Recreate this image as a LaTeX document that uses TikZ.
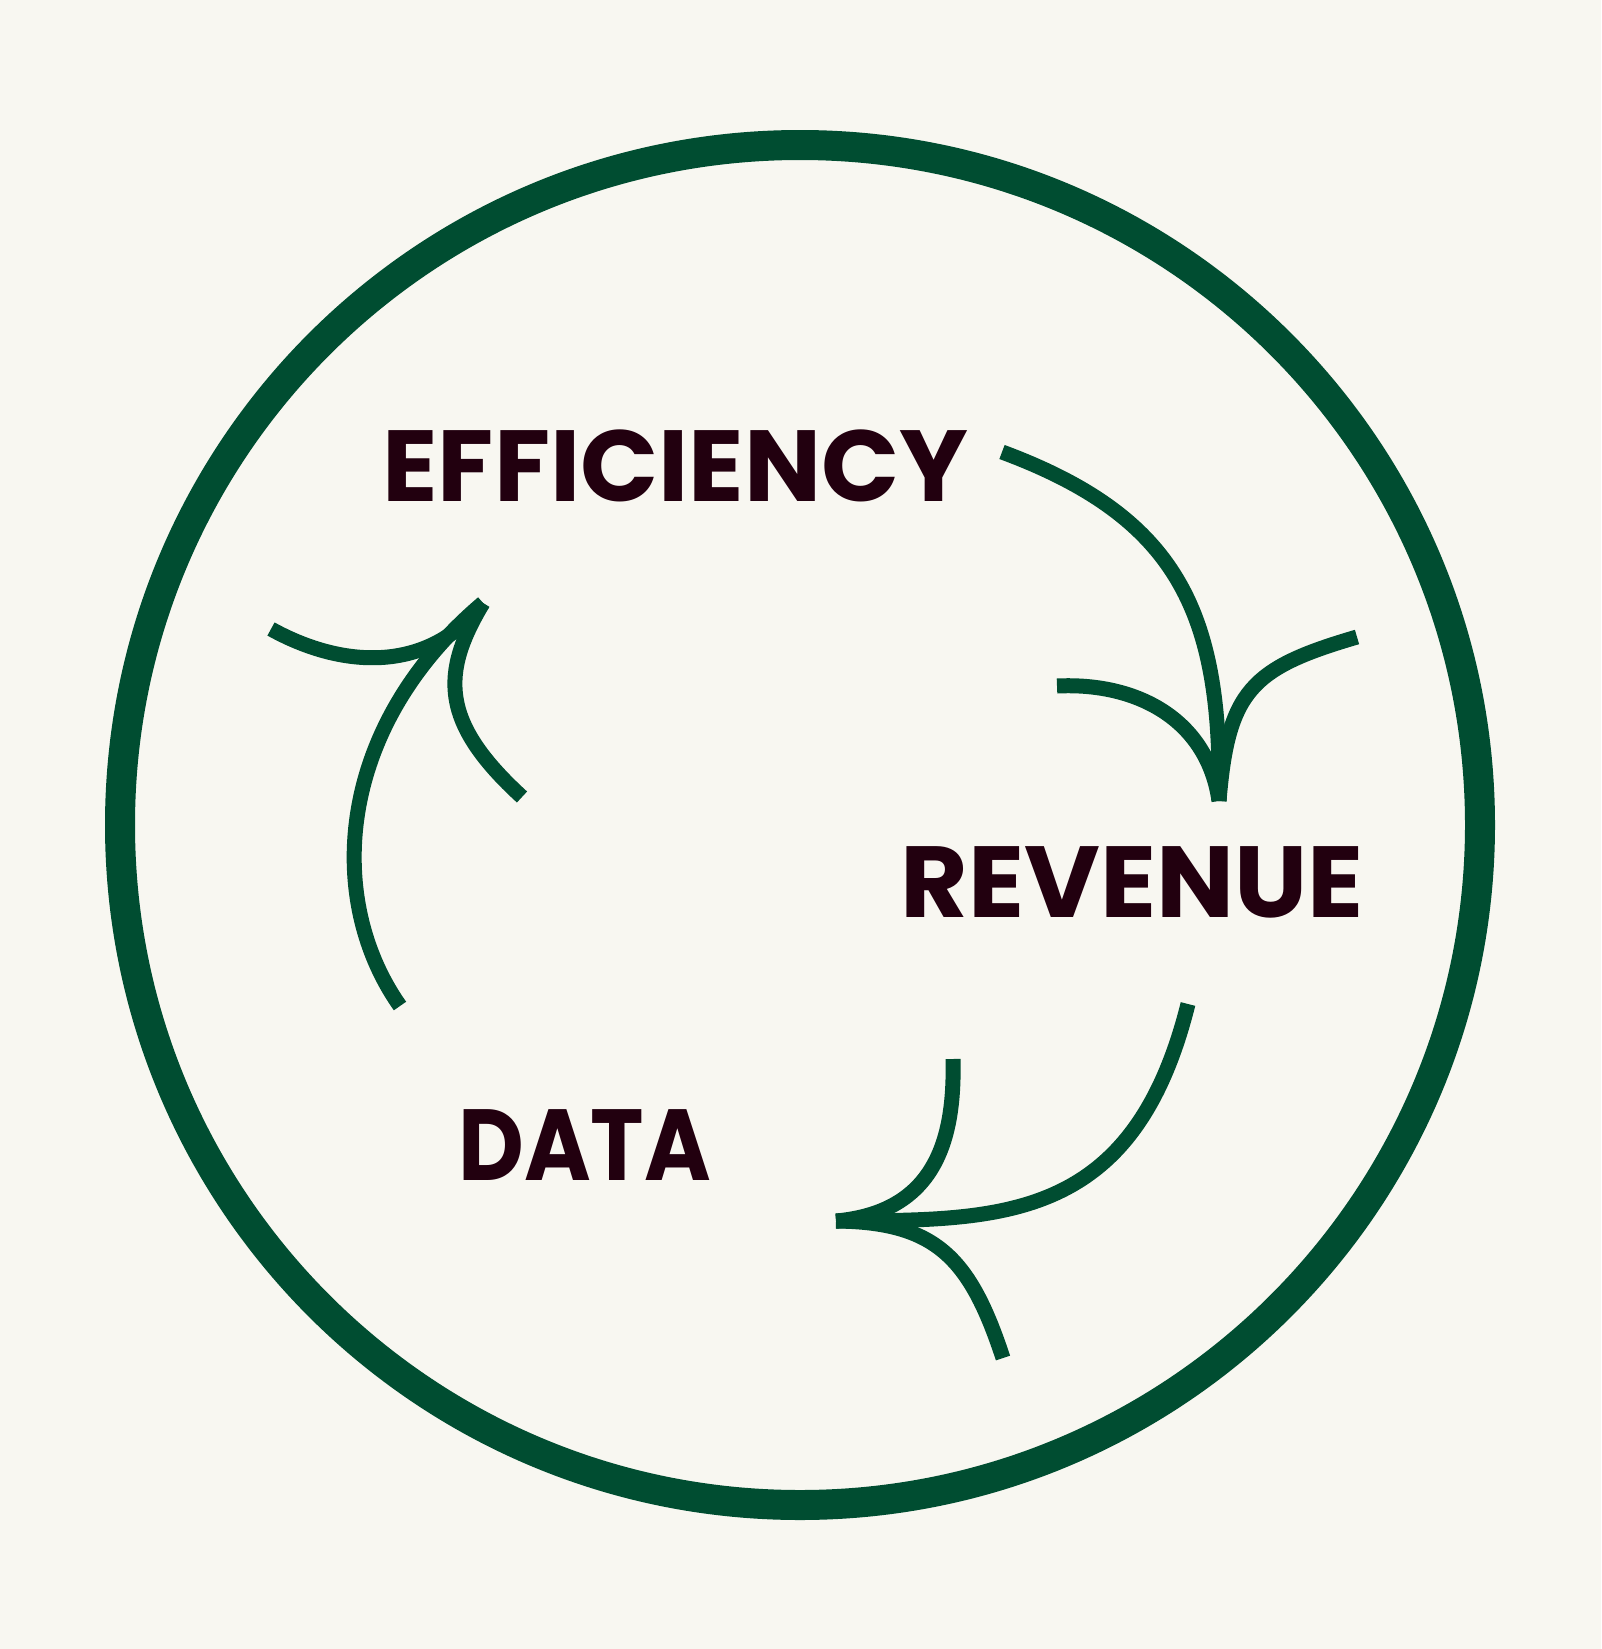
\documentclass[tikz,border=0pt]{standalone}
\usepackage{fontspec}
\usepackage{tikz}
\newfontfamily\cyclefont{Poppins}
\definecolor{paper}{HTML}{F8F7F1}
\definecolor{pine}{HTML}{004D31}
\definecolor{ink}{HTML}{22000F}

\begin{document}
\begin{tikzpicture}[x=1pt, y=-1pt,
  ring/.style={draw=pine, line width=30pt},
  flow/.style={draw=pine, line width=15pt},
  word/.style={inner sep=0pt, anchor=base, text=ink, font=\cyclefont\bfseries\fontsize{101}{101}\selectfont}]
\fill[paper] (0,0) rectangle (1601,1649);
\useasboundingbox (0,0) rectangle (1601,1649);

\draw[ring] (800,825) circle [radius=680];

\node (eff) [word] at (675.5,501) {\scalebox{1.016}[1]{EFFICIENCY}};
\node (rev) [word] at (1132,917.3) {\scalebox{1.028}[1]{REVENUE}};
\node (dat) [word] at (584.7,1180.7) {\scalebox{0.896}[1]{DATA}};

% efficiency -> revenue
\coordinate (effout) at (1002,452);
\coordinate (revtip) at (1219,801);
\coordinate (revl) at (1057,686);
\coordinate (revr) at (1357,637);
\draw[flow] (effout) .. controls (1180,518) and (1222,615) .. (revtip);
\draw[flow] (revl) .. controls (1140,682) and (1208,722) .. (revtip);
\draw[flow] (revr) .. controls (1251,668) and (1228,691) .. (revtip);

% revenue -> data
\coordinate (revout) at (1188,1004);
\coordinate (dattip) at (836,1221);
\coordinate (datu) at (953,1059);
\coordinate (datd) at (1003,1358);
\draw[flow] (revout) .. controls (1133,1224) and (1000,1220) .. (dattip);
\draw[flow] (datu) .. controls (955,1140) and (935,1212) .. (dattip);
\draw[flow] (datd) .. controls (970,1258) and (936,1222) .. (dattip);

% data -> efficiency
\coordinate (datout) at (400,1006);
\coordinate (efftip) at (483,603);
\coordinate (effl) at (271,629);
\coordinate (effr) at (522,797);
\draw[flow] (datout) .. controls (325,900) and (335,728) .. (efftip);
\draw[flow] (effl) .. controls (345,670) and (430,672) .. (efftip);
\draw[flow] (effr) .. controls (440,722) and (441,673) .. (efftip);
\end{tikzpicture}
\end{document}
